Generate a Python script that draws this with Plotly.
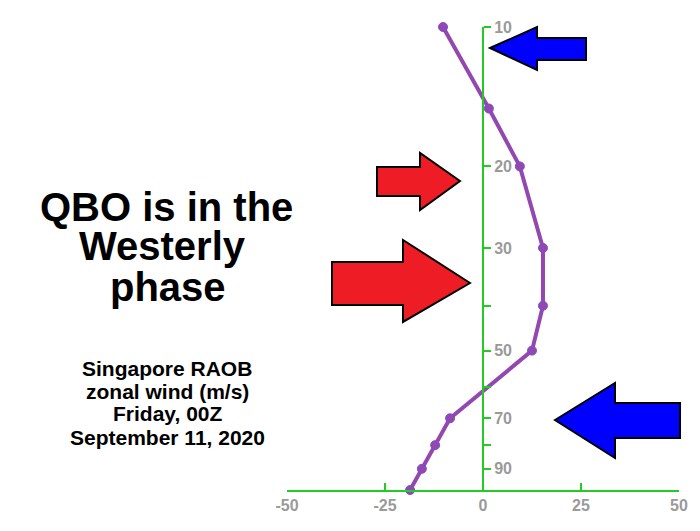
import plotly.graph_objects as go

pressure = [10, 15, 20, 30, 40, 50, 70, 80, 90, 100]
zonal_wind = [-10.2, 1.5, 9.4, 15.3, 15.3, 12.5, -8.4, -12.2, -15.6, -18.6]
y_ticks = [10, 20, 30, 40, 50, 60, 70, 80, 90]
y_labels = ["10", "20", "30", "", "50", "", "70", "", "90"]
x_ticks = [-50, -25, 0, 25, 50]
title_lines = ["QBO is in the", "Westerly", "phase"]
info_lines = ["Singapore RAOB", "zonal wind (m/s)", "Friday, 00Z", "September 11, 2020"]

# page has an 8px body margin; lay out in page pixels of the reference
OFF = 8
W, H = 700 - OFF, 531 - OFF
L, R, T, B = 287 - OFF, 21, 27 - OFF, 41
PW, PH = W - L - R, H - T - B


def px(x, y):
    return (x - OFF - L) / PW, (H - B - (y - OFF)) / PH


def arrow(pts, color):
    conv = [px(x, y) for x, y in pts]
    path = "M " + " L ".join(f"{a:.4f},{b:.4f}" for a, b in conv) + " Z"
    return dict(type="path", xref="paper", yref="paper", path=path,
                fillcolor=color, line=dict(color="black", width=2), layer="above")


def label(text, x, y, size):
    return dict(xref="paper", yref="paper", x=px(x, 0)[0], y=px(0, y)[1],
                xanchor="center", yanchor="middle", text=f"<b>{text}</b>",
                showarrow=False, font=dict(family="Liberation Sans", size=size, color="black"))


shapes = [
    arrow([(490, 48), (537, 27), (537, 38), (586, 38), (586, 60), (537, 60), (537, 70)], "#0000ff"),
    arrow([(555, 420), (615, 383), (615, 403), (680, 403), (680, 438), (615, 438), (615, 458)], "#0000ff"),
    arrow([(460, 181), (420, 153), (420, 167), (377, 167), (377, 196), (420, 196), (420, 210)], "#ee1c24"),
    arrow([(470, 283), (403, 240), (403, 262), (332, 262), (332, 305), (403, 305), (403, 322)], "#ee1c24"),
]

annotations = [label(t, x, y, 40) for t, x, y in zip(title_lines, [166, 162, 168], [207, 246, 287])]
annotations += [label(t, 167, y, 21) for t, y in zip(info_lines, [368, 391, 413, 437])]

fig = go.Figure(go.Scatter(
    x=zonal_wind, y=pressure, mode="lines+markers",
    line=dict(color="#9348b0", width=4),
    marker=dict(size=9, color="#9348b0", line=dict(color="#7a4fd0", width=1)),
    cliponaxis=False, hoverinfo="x+y",
))

gray = dict(family="Liberation Sans", size=16, color="#9a9a9a")
fig.update_layout(
    width=W, height=H, showlegend=False,
    plot_bgcolor="white", paper_bgcolor="white",
    margin=dict(l=L, r=R, t=T, b=B),
    shapes=shapes,
    annotations=annotations,
    xaxis=dict(range=[-50, 50], tickvals=x_ticks, ticktext=[f"<b>{v}</b>" for v in x_ticks],
               showgrid=False, zeroline=False,
               showline=True, linecolor="#22cc22", linewidth=2,
               ticks="inside", tickcolor="#22cc22", tickwidth=2, ticklen=7,
               tickfont=gray),
    yaxis=dict(type="log", range=[2, 1], tickvals=y_ticks,
               ticktext=[f"<b>{t}</b>" if t else "" for t in y_labels],
               anchor="free", position=0.5, side="right",
               showgrid=False, zeroline=False, showline=True,
               linecolor="#22cc22", linewidth=2, ticks="outside",
               tickcolor="#22cc22", tickwidth=2, ticklen=7, tickfont=gray),
)

fig.write_html("out.html")
